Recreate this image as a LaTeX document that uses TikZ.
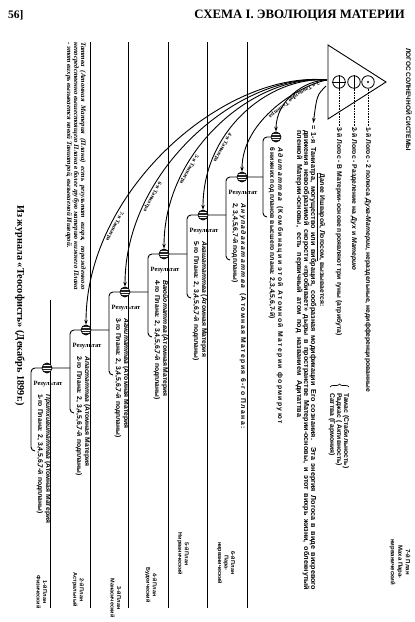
\documentclass[tikz,border=0pt]{standalone}
\usepackage{fontspec}
\setmainfont{Liberation Serif}
\newfontfamily\df{Liberation Sans}
\usetikzlibrary{arrows.meta,decorations.pathreplacing}
\begin{document}
\begin{tikzpicture}[x=1pt,y=-1pt,
  every node/.style={inner sep=0pt},
  vt/.style={rotate=-90,anchor=west,font=\df\bfseries\fontsize{6.8}{7}\selectfont},
  vtw/.style={rotate=-90,anchor=west,font=\df\bfseries\fontsize{6.8}{7}\selectfont\addfontfeature{LetterSpace=20.5}},
  vtp/.style={rotate=-90,anchor=west,font=\df\bfseries\fontsize{7.2}{7}\selectfont},
  ptext/.style={rotate=-90,anchor=center,align=center,font=\df\bfseries\fontsize{5.5}{6.5}\selectfont},
  res/.style={font=\bfseries\fontsize{6.5}{6.5}\selectfont},
  tan/.style={sloped,allow upside down,above=1pt,font=\bfseries\fontsize{5.5}{5.5}\selectfont},
  plane/.style={line width=0.9pt},
  conn/.style={line width=0.9pt,rounded corners=4pt},
  arr/.style={line width=0.9pt,-{Stealth[length=5pt,width=3.5pt]}},
  atom/.style={circle,draw,line width=0.7pt,fill=black!85,minimum size=10pt,
     path picture={\foreach \d in {-2.5,0,2.5}{\draw[white,line width=0.7pt]
       ([yshift=\d pt]path picture bounding box.west) -- ([yshift=\d pt]path picture bounding box.east);}}},
  logo/.style={circle,draw,line width=0.8pt,fill=white,minimum size=12.5pt},
]
\useasboundingbox (0,0) rectangle (415,622);

% header
\node[anchor=base west,font=\bfseries\fontsize{11.5}{11.5}\selectfont] (pg) at (8,18) {56]};
\node[anchor=base east,font=\bfseries\fontsize{12.8}{12.8}\selectfont] (title) at (405,18) {СХЕМА I. ЭВОЛЮЦИЯ МАТЕРИИ};

% plane dividers
\foreach \x in {247,207,168,128,90} \draw[plane] (\x,42) -- (\x,608);
\draw[plane] (50,300) -- (50,608);

% Logos triangle
\coordinate (T1) at (328,45);
\coordinate (T2) at (386,82);
\coordinate (T3) at (328,119);
\draw[line width=0.9pt] (T1) -- (T2) -- (T3) -- cycle;
\node[logo] (L1) at (368,82) {};
\fill (L1.center) circle (1.1pt);
\node[logo] (L2) at (354,82) {};
\draw[line width=0.8pt] (L2.north) -- (L2.south);
\node[logo] (L3) at (339,82) {};
\draw[line width=0.8pt] (L3.north) -- (L3.south) (L3.west) -- (L3.east);

\node[vt,font=\df\bfseries\fontsize{6.5}{7}\selectfont] (logos) at (409,48) {ЛОГОС СОЛНЕЧНОЙ СИСТЕМЫ};

\node[vt] (t1) at (368,127) {1-й Логос - 2 полюса \textit{Духа-Материи}, нераздельные, недифференцированные};
\node[vt] (t2) at (354,127) {2-й Логос - Разделение на \textit{Дух} и \textit{Материю}};
\node[vt] (t3) at (339,127) {3-й Логос - В Материи-основе проявляют три гуны (атрибута)};
\draw[densely dotted,line width=0.6pt] (L1.south) -- (t1.west);
\draw[densely dotted,line width=0.6pt] (L2.south) -- (t2.west);
\draw[densely dotted,line width=0.6pt] (L3.south) -- (t3.west);
\coordinate (br1) at (330,387);
\coordinate (br2) at (349,387);
\draw[line width=0.7pt,decorate,decoration={brace,amplitude=3pt}] (br1) -- (br2);
\node[vt] (g1) at (346,393) {Тамас (Стабильность)};
\node[vt] (g2) at (339,393) {Раджас ( Активность)};
\node[vt] (g3) at (332,393) {Саттва (Гармония)};

% paragraph of plane 7
\node[vt] (dal) at (321,173) {\underline{Далее Ишварой, Логосом,} вызывается:};
\node[vtp] (p1) at (313,125) {\makebox[465pt][s]{= 1-я Таниатра, могущество или вибрация, сообразная модификации Его сознания. Эта энергия Логоса в виде вихревого}};
\node[vtp] (p2) at (306,130) {\makebox[460pt][s]{движения невообразимой скорости «пробивает» дыры в пространстве Материи-основы, и этот вихрь жизни, облекнутый}};
\node[vtp] (p3) at (299,130) {\makebox[287pt][s]{пленкой Материи-основы, есть первичный атом под названием Адитаттва}};

% plane 7 result
\node[vtw] (a7a) at (280,147) {\textit{Адитаттва} (Комбинации этой Атомной Материи формируют};
\node[vt] (a7b) at (272,147) {6 нижних под планов высшего плана: 2,3,4,5,6,7-й)};
\coordinate (A7j) at (263,137);
\coordinate (A7b) at (263,217);
\coordinate (A7h) at (267,217);
\node[atom] (A7) at (276,137) {};
\draw[conn] (A7.west) -- (A7j) -- (A7b) -- (A7h);

% plane 6
\draw[conn] (263,177) -- (226,177) -- (226,260) -- (230,260);
\node[atom] (A6) at (242,177) {};
\node[res] (R6) at (243,193) {Результат};
\node[vtw] (a6a) at (243,203) {\textit{Анупадакататтва} (Атомная Материя 6-го Плана:};
\node[vt] (a6b) at (235,203) {2, 3,4,5,6,7-й подпланы)};

% plane 5
\draw[conn] (226,215) -- (187,215) -- (187,298) -- (191,298);
\node[atom] (A5) at (203,215) {};
\node[res] (R5) at (204,231) {Результат};
\node[vt] (a5a) at (204,241) {\textit{Акашататтва} (Атомная Материя};
\node[vt] (a5b) at (196,241) {5-го Плана: 2, 3,4,5,6,7-й подпланы)};

% plane 4
\draw[conn] (187,254) -- (148,254) -- (148,337) -- (152,337);
\node[atom] (A4) at (164,254) {};
\node[res] (R4) at (165,270) {Результат};
\node[vt] (a4a) at (165,280) {\textit{Ваюйотаттва} (Атомная Материя};
\node[vt] (a4b) at (157,280) {4-го Плана: 2, 3,4,5,6,7-й подпланы)};

% plane 3
\draw[conn] (148,292) -- (109,292) -- (109,375) -- (113,375);
\node[atom] (A3) at (125,292) {};
\node[res] (R3) at (126,308) {Результат};
\node[vt] (a3a) at (126,318) {\textit{Агнитаттва} (Атомная Материя};
\node[vt] (a3b) at (118,318) {3-го Плана: 2, 3,4,5,6,7-й подпланы)};

% plane 2
\draw[conn] (109,330) -- (70,330) -- (70,413) -- (74,413);
\node[atom] (A2) at (86,330) {};
\node[res] (R2) at (87,346) {Результат};
\node[vt] (a2a) at (87,356) {\textit{Апастаттва} (Атомная Материя};
\node[vt] (a2b) at (79,356) {2-го Плана: 2, 3,4,5,6,7-й подпланы)};

% plane 1
\draw[conn] (70,368) -- (31,368) -- (31,451) -- (35,451);
\node[atom] (A1) at (47,368) {};
\node[res] (R1) at (48,384) {Результат};
\node[vt] (a1a) at (48,394) {\textit{Притхивитаттва} (Атомная Материя};
\node[vt] (a1b) at (40,394) {1-го Плана: 2, 3,4,5,6,7-й подпланы)};

% Tanmatra arrows
\coordinate (S) at (327,80);
\coordinate (S1) at (326,86);
\draw[arr,shorten >=2pt] (S1) .. controls (317,95) .. (p1.west);
\draw[arr] (S) .. controls (305,80) and (276,100) .. (A7.north) node[tan,pos=0.35] {2-я Таниатра};
\draw[arr] (S) .. controls (300,85) and (242,120) .. (A6.north) node[tan,pos=0.45] {3-я Таниатра};
\draw[arr] (S) .. controls (270,76) and (203,130) .. (A5.north) node[tan,pos=0.7] {4-я Таниатра};
\draw[arr] (S) .. controls (255,74) and (164,150) .. (A4.north) node[tan,pos=0.7] {5-я Таниатра};
\draw[arr] (S) .. controls (240,72) and (125,170) .. (A3.north) node[tan,pos=0.72] {6-я Таниатра};
\draw[arr] (S) .. controls (225,70) and (86,190) .. (A2.north) node[tan,pos=0.74] {7-я Таниатра};

% plane labels
\node[ptext,font=\df\bfseries\fontsize{6}{7.5}\selectfont] (pl7) at (400,562) {7-й План\\Маха Пара-\\нирванический};
\node[ptext] (pl6) at (226,563) {6-й План\\Пара-\\нирванический};
\node[ptext] (pl5) at (183,554) {5-й План\\Нирванический};
\node[ptext] (pl4) at (151,585) {4-й План\\Будхический};
\node[ptext] (pl3) at (116,598) {3-й План\\Манасический};
\node[ptext] (pl2) at (78,590) {2-й План\\Астральный};
\node[ptext] (pl1) at (42,592) {1-й План\\Физический};

% left notes
\node[rotate=-90,anchor=north west,align=justify,text width=248pt,font=\bfseries\itshape\fontsize{6.9}{6.9}\selectfont] (note) at (86,42)
 {Таттва (Атомная Материя (Плана) есть результат вихря, порожденного непосредственно вышестоящего Плана в более грубую материю нижнего Плана - этот вихрь вызывается новой Таниатрой, вызываемой Ишварой.};
\node[rotate=-90,anchor=west,font=\bfseries\fontsize{10.3}{10.3}\selectfont] (jr) at (20,205) {Из журнала «Теософистъ» (Декабрь 1899г.)};
\end{tikzpicture}
\end{document}
